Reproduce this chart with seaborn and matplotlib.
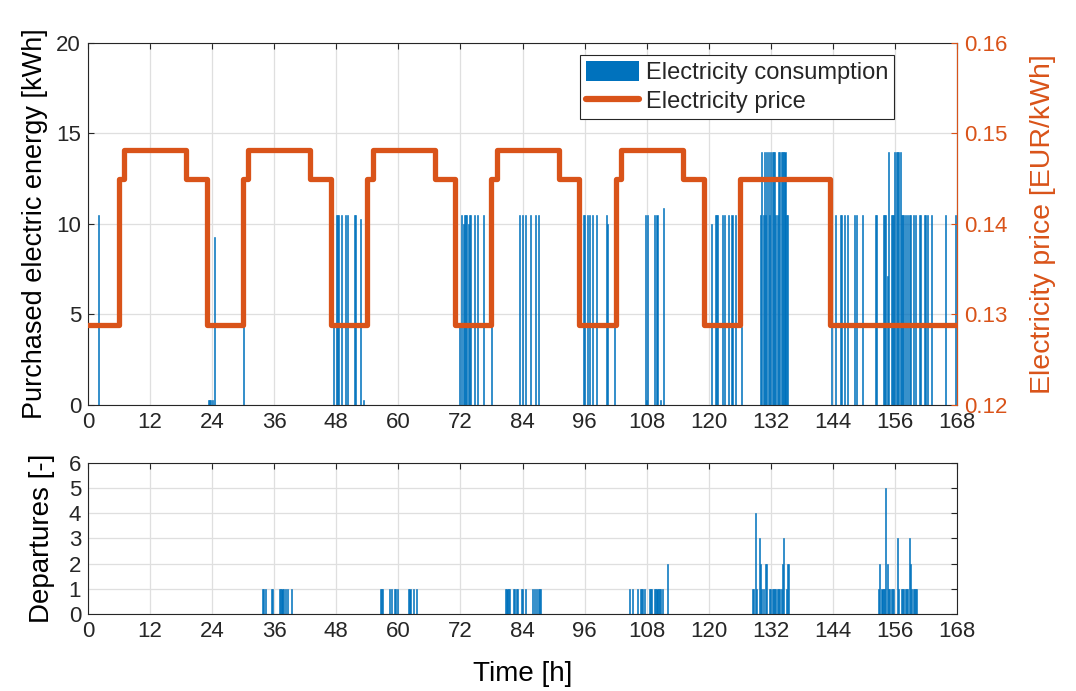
import numpy as np
import pandas as pd
import matplotlib
matplotlib.use("Agg")
import matplotlib.pyplot as plt
import seaborn as sns
from matplotlib.patches import Patch
from matplotlib.lines import Line2D

# Purchased electric energy per 15-min slot [kWh] (slot start hour, value)
cons_t = [2.0, 23.25, 23.5, 23.75, 24.0, 24.5, 30.0,
          47.5, 48.0, 48.25, 48.5, 49.0, 49.75, 50.25, 51.5, 51.75, 52.75, 53.25,
          71.75, 72.25, 72.5, 72.75, 73.0, 73.25, 73.5, 73.75, 74.0, 74.75, 75.25, 76.5, 78.0,
          83.5, 84.0, 84.5, 85.5, 86.5, 87.0,
          95.75, 96.0, 96.5, 97.0, 97.5, 98.25, 100.25, 100.5, 101.75,
          107.75, 108.0, 108.25, 109.5, 110.0, 110.75, 111.25,
          120.5, 121.25, 121.5, 121.75, 122.75, 123.0, 123.75, 124.5, 125.25, 126.25,
          130.0, 130.25, 130.5, 130.75, 131.0, 131.25, 131.5, 131.75, 132.0, 132.25,
          132.5, 132.75, 133.0, 133.25, 133.5, 133.75, 134.0, 134.25, 134.5, 134.75,
          135.0, 135.25,
          143.75, 144.5, 145.5, 145.75, 146.25, 146.75, 148.25, 148.5, 149.75,
          152.25, 152.5, 153.75, 154.0, 154.25, 154.5, 154.75, 155.25, 155.5, 155.75,
          156.0, 156.25, 156.5, 156.75, 157.0, 157.25, 157.5, 157.75, 158.0, 158.5,
          158.75, 159.0, 159.5, 160.0, 160.75, 161.0, 161.75, 162.0, 162.25, 163.0,
          165.75, 167.75]
cons_v = [10.5, 0.3, 0.3, 0.3, 0.3, 9.3, 4.3,
          4.3, 10.5, 10.5, 10.5, 10.5, 10.5, 10.5, 10.5, 10.5, 10.3, 0.3,
          4.3, 10.5, 10.0, 10.5, 10.5, 10.5, 10.0, 10.5, 10.5, 10.5, 10.5, 10.5, 4.3,
          10.5, 10.5, 10.5, 10.5, 10.5, 10.5,
          10.5, 10.5, 10.5, 10.5, 10.5, 10.5, 10.5, 10.0, 4.3,
          10.5, 0.3, 10.5, 10.5, 10.5, 0.3, 10.9,
          10.0, 10.5, 10.5, 10.5, 10.5, 10.5, 10.5, 10.5, 10.5, 4.3,
          10.5, 14.0, 10.5, 14.0, 10.5, 14.0, 14.0, 10.5, 14.0, 14.0,
          14.0, 14.0, 10.5, 10.5, 14.0, 14.0, 14.0, 14.0, 14.0, 14.0,
          10.5, 10.5,
          4.3, 10.5, 10.5, 10.5, 10.5, 10.5, 10.5, 10.5, 10.5,
          10.5, 10.5, 10.5, 10.5, 10.5, 7.1, 14.0, 10.5, 10.5, 10.5,
          14.0, 14.0, 14.0, 14.0, 14.0, 10.5, 10.5, 10.5, 10.5, 10.5,
          10.5, 10.5, 10.5, 10.5, 10.5, 10.5, 10.5, 10.5, 10.5, 10.5,
          10.5, 10.5]

# Electricity price steps [EUR/kWh]
price_t = [0, 6, 7, 19, 23, 30, 31, 43, 47, 54, 55, 67, 71, 78, 79, 91,
           95, 102, 103, 115, 119, 126, 143.5, 168]
price_v = [0.1288, 0.1450, 0.1482, 0.1450, 0.1288, 0.1450, 0.1482, 0.1450,
           0.1288, 0.1450, 0.1482, 0.1450, 0.1288, 0.1450, 0.1482, 0.1450,
           0.1288, 0.1450, 0.1482, 0.1450, 0.1288, 0.1450, 0.1288, 0.1288]

# Departures per 15-min slot
dep_t = [33.75, 34.0, 34.25, 35.5, 35.75, 37.0, 37.25, 37.5, 37.75, 38.25, 38.5, 39.25,
         56.5, 56.75, 57.0, 58.25, 58.75, 59.25, 59.5, 59.75, 62.0, 62.25, 63.0, 63.5,
         80.75, 81.0, 81.25, 81.5, 82.25, 82.5, 82.75, 83.0, 83.75, 84.0, 84.5,
         86.0, 86.25, 86.75, 87.0, 87.25, 87.5,
         104.75, 105.25, 106.25, 106.75, 107.0, 107.25, 107.5, 108.5, 108.75, 109.0,
         109.5, 109.75, 110.0, 110.25, 110.5, 110.75, 111.0, 112.0,
         128.5, 128.75, 129.0, 129.25, 129.75, 130.0, 130.25, 130.5, 131.0, 131.25,
         131.75, 132.0, 132.25, 132.5, 132.75, 133.0, 133.25, 133.5, 133.75, 134.0,
         134.25, 134.5, 135.0, 135.25, 135.5,
         152.75, 153.0, 153.5, 153.75, 154.0, 154.25, 154.5, 154.75, 155.0, 155.25,
         155.5, 155.75, 156.5, 156.75, 157.25, 157.5, 157.75, 158.0, 158.25, 158.5,
         158.75, 159.0, 159.25, 159.5, 159.75, 160.0, 160.25]
dep_v = [1, 1, 1, 1, 1, 1, 1, 1, 1, 1, 1, 1,
         1, 1, 1, 1, 1, 1, 1, 1, 1, 1, 1, 1,
         1, 1, 1, 1, 1, 1, 1, 1, 1, 1, 1,
         1, 1, 1, 1, 1, 1,
         1, 1, 1, 1, 1, 1, 1, 1, 1, 1,
         1, 1, 1, 1, 1, 1, 1, 2,
         1, 1, 4, 1, 3, 2, 1, 1, 2, 2,
         1, 1, 1, 1, 1, 1, 1, 1, 1, 1,
         2, 3, 1, 2, 2,
         1, 2, 1, 1, 1, 5, 2, 1, 1, 1,
         1, 1, 3, 1, 1, 1, 1, 1, 1, 1,
         3, 2, 1, 1, 1, 1, 1]

xticks = list(range(0, 169, 12))

blue = "#0072BD"
orange = "#D95319"
dark = "#262626"

sns.set_style("whitegrid")
plt.rcParams['font.family'] = ['Liberation Sans', 'DejaVu Sans']

fig = plt.figure(figsize=(10.76, 6.91), dpi=100)
ax1 = fig.add_axes([0.0818, 0.4139, 0.8076, 0.5239])
ax2 = fig.add_axes([0.0818, 0.1114, 0.8076, 0.2186])

cons = pd.DataFrame({"t": cons_t, "v": cons_v})
dep = pd.DataFrame({"t": dep_t, "v": dep_v})

# thin bars, MATLAB-like (width 0.8 of a 15-min slot, thin edge)
sns.barplot(data=cons, x="t", y="v", native_scale=True, color=blue,
            saturation=1, errorbar=None, linewidth=0.4, edgecolor=blue, ax=ax1)
sns.barplot(data=dep, x="t", y="v", native_scale=True, color=blue,
            saturation=1, errorbar=None, linewidth=0.4, edgecolor=blue, ax=ax2)

ax1r = ax1.twinx()
sns.lineplot(x=price_t, y=price_v, drawstyle="steps-post", color=orange,
             linewidth=3.8, solid_joinstyle="round", solid_capstyle="round",
             ax=ax1r)

grid_kw = dict(color="#dfdfdf", linewidth=0.9)
for ax in (ax1, ax2):
    ax.set_xlim(0, 168)
    ax.set_xticks(xticks)
    ax.set_xticklabels([str(x) for x in xticks])
    ax.grid(True, **grid_kw)
    ax.set_axisbelow(True)
    ax.tick_params(axis="both", direction="in", length=4, width=0.8,
                   labelsize=16, colors=dark, top=True, pad=5)
    for s in ax.spines.values():
        s.set_color(dark)
        s.set_linewidth(0.8)
        s.set_visible(True)

ax1.set_ylim(0, 20)
ax1.set_yticks([0, 5, 10, 15, 20])
ax1.set_xlabel("")
ax1.set_ylabel("Purchased electric energy [kWh]", fontsize=19.5, color="black", labelpad=6)

ax1r.set_ylim(0.12, 0.16)
ax1r.set_yticks([0.12, 0.13, 0.14, 0.15, 0.16])
ax1r.set_yticklabels(["0.12", "0.13", "0.14", "0.15", "0.16"])
ax1r.grid(False)
ax1r.tick_params(axis="y", direction="in", length=4, width=0.8,
                 labelsize=16, colors=orange, pad=5)
ax1r.set_ylabel("Electricity price [EUR/kWh]", fontsize=20.5, color=orange,
                rotation=90, labelpad=16)
for s in ax1r.spines.values():
    s.set_visible(False)
ax1r.spines["right"].set_visible(True)
ax1r.spines["right"].set_color(orange)
ax1r.spines["right"].set_linewidth(0.8)
ax1.tick_params(axis="y", right=False)

ax2.set_ylim(0, 6)
ax2.set_yticks(range(0, 7))
ax2.tick_params(axis="y", right=True)
ax2.set_ylabel("Departures [-]", fontsize=20, color="black", labelpad=10)
ax2.set_xlabel("Time [h]", fontsize=20, color="black", labelpad=14)

handles = [Patch(facecolor=blue, edgecolor="none"),
           Line2D([0], [0], color=orange, linewidth=4.5)]
leg = ax1r.legend(handles, ["Electricity consumption", "Electricity price"],
                  loc="upper left", bbox_to_anchor=(0.566, 0.967), borderaxespad=0,
                  fontsize=17, frameon=True, fancybox=False, framealpha=1,
                  edgecolor=dark, handlelength=2.25, handleheight=0.95,
                  handletextpad=0.3, borderpad=0.25, labelspacing=0.25)
leg.get_frame().set_linewidth(0.8)

fig.savefig("out.png", dpi=100)
